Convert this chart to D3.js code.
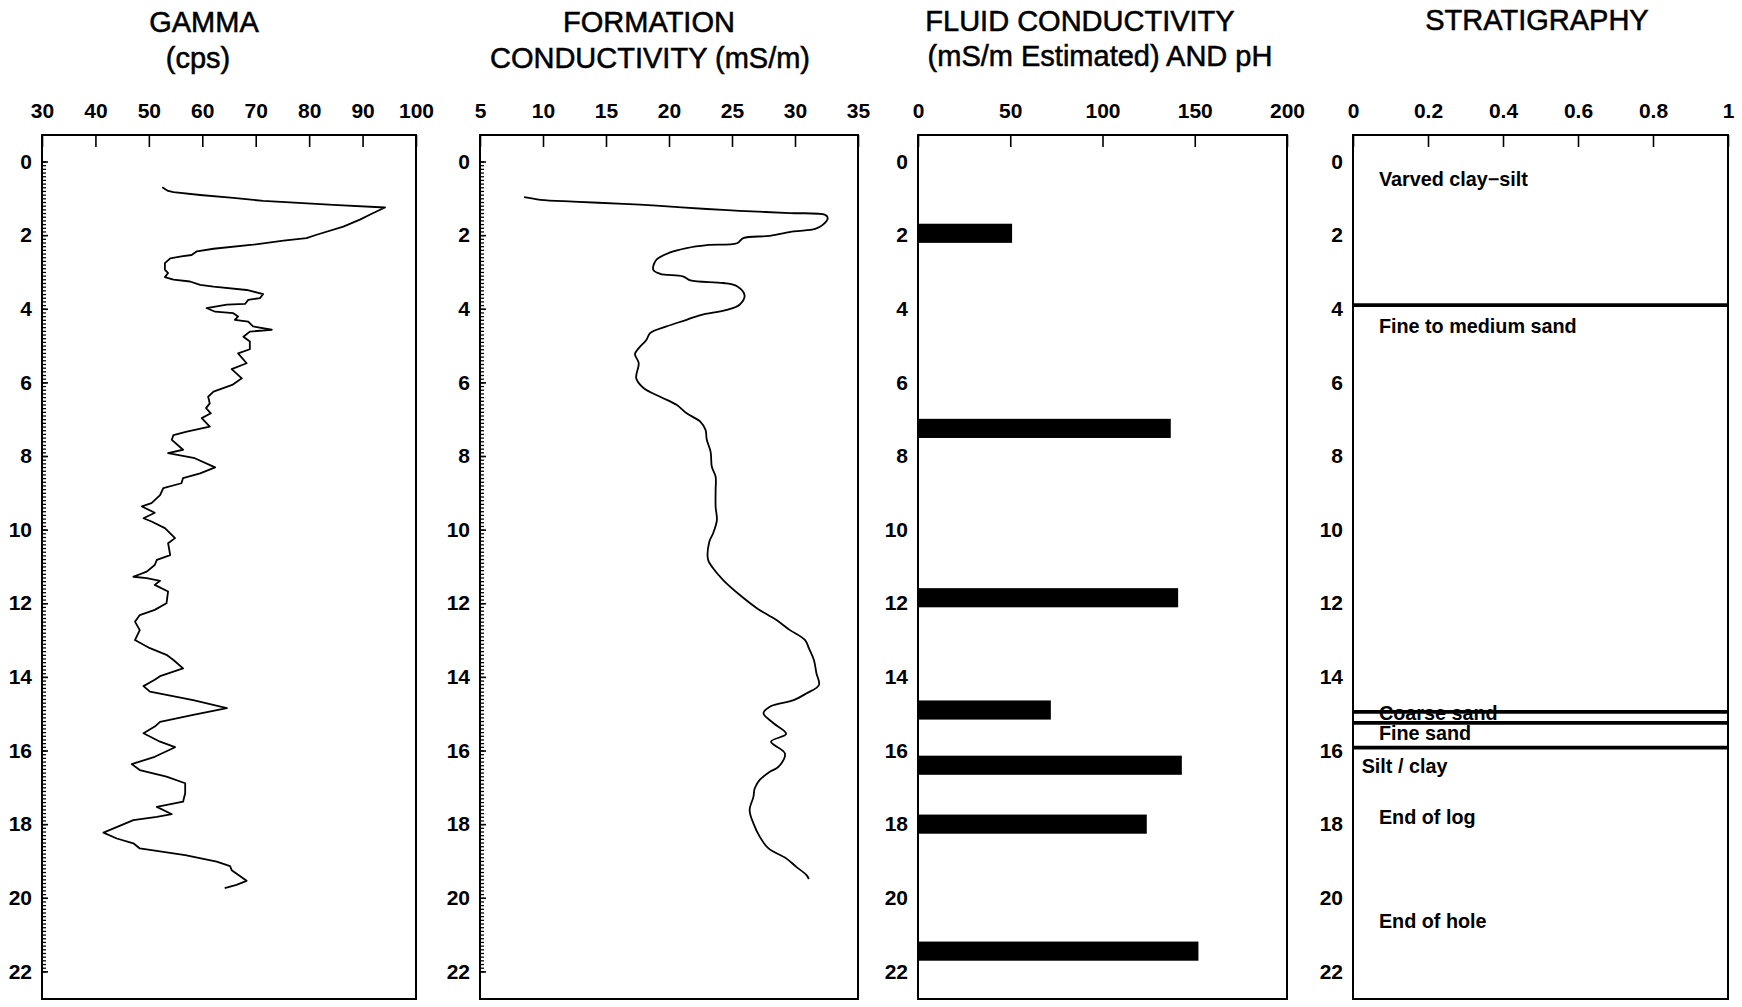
<!DOCTYPE html>
<html>
<head>
<meta charset="utf-8">
<script src="https://cdn.jsdelivr.net/npm/d3@7"></script>
<style>
  html, body { margin: 0; padding: 0; background: #fff; }
  svg { display: block; }
</style>
</head>
<body>
<svg id="chart" width="1742" height="1007"></svg>
<script>
// ---- Borehole log data (depth in metres) ----

// Natural gamma log
const gammaDepth = [0.70,0.80,0.83,0.91,0.99,1.07,1.11,1.18,1.25,1.40,1.58,1.77,1.99,2.08,2.15,2.26,2.37,2.44,2.54,2.58,2.63,2.76,2.94,3.03,3.14,3.21,3.26,3.35,3.40,3.49,3.60,3.71,3.76,3.87,3.89,3.98,4.08,4.12,4.21,4.30,4.35,4.48,4.57,4.62,4.76,4.89,5.10,5.21,5.48,5.64,5.89,6.07,6.25,6.39,6.57,6.70,6.84,6.97,7.20,7.34,7.43,7.56,7.83,7.92,8.06,8.31,8.47,8.60,8.74,8.87,9.06,9.28,9.37,9.54,9.69,9.78,9.96,10.23,10.37,10.69,10.82,10.96,11.14,11.28,11.32,11.39,11.50,11.68,12.00,12.18,12.32,12.50,12.73,13.00,13.22,13.40,13.54,13.77,13.98,14.08,14.25,14.40,14.63,14.85,15.03,15.22,15.35,15.53,15.76,15.91,16.17,16.37,16.53,16.71,16.89,17.16,17.39,17.53,17.73,17.80,17.89,18.23,18.39,18.52,18.66,18.84,19.02,19.14,19.25,19.54,19.65,19.74];
const gammaCps = [52.5,53.6,54.6,59.6,65.8,71.4,76.4,84.5,94.2,92.0,89.5,86.4,81.4,79.5,75.2,69.5,62.1,59.0,58.0,56.1,54.0,53.0,53.0,53.6,53.0,54.6,57.7,59.6,62.1,68.3,71.4,70.8,68.6,68.0,64.6,60.8,62.4,65.8,66.7,66.1,68.6,69.5,73.0,68.9,67.7,68.9,68.9,66.7,68.3,65.5,67.4,65.6,62.1,61.1,61.4,60.7,61.6,59.9,61.4,57.1,54.6,54.3,56.4,53.6,58.6,62.4,59.6,56.4,56.1,52.7,52.1,50.5,48.7,51.1,49.0,50.5,53.0,54.9,53.6,54.0,51.5,51.1,49.6,47.1,49.6,52.1,51.1,53.6,53.3,51.1,48.3,47.4,48.3,47.4,50.2,53.3,54.6,56.4,52.1,51.1,49.0,50.2,58.3,64.6,58.3,52.1,51.1,49.0,52.1,54.9,51.1,46.8,48.3,53.3,56.8,56.8,56.4,51.5,54.3,51.5,47.1,41.5,44.0,47.1,48.3,56.8,62.7,65.2,65.5,68.3,66.4,64.2];

// Formation (EM) conductivity log
const condDepth = [0.97,1.04,1.09,1.15,1.20,1.29,1.34,1.40,1.45,1.54,1.72,1.83,1.90,2.02,2.08,2.22,2.27,2.35,2.47,2.67,2.94,3.05,3.12,3.23,3.30,3.39,3.64,3.89,4.03,4.17,4.30,4.48,4.66,4.85,5.07,5.23,5.48,5.89,6.16,6.39,6.61,6.84,7.07,7.29,7.56,7.88,8.29,8.56,8.92,9.38,9.74,10.10,10.33,10.82,11.05,11.37,11.77,12.14,12.45,12.73,13.00,13.22,13.54,13.90,14.22,14.45,14.63,14.81,14.99,15.26,15.55,15.76,16.08,16.44,16.58,16.80,17.03,17.26,17.62,17.98,18.34,18.66,18.93,19.16,19.38,19.49];
const condMsm = [8.5,9.8,12.4,16.4,19.0,23.0,25.6,29.6,32.4,32.6,32.2,31.6,29.9,28.0,25.9,25.4,23.0,21.4,20.1,19.0,18.75,19.3,21.1,21.7,24.3,25.4,26.0,25.6,24.6,22.5,21.4,19.8,18.5,18.2,17.6,17.3,17.6,17.4,18.0,19.3,20.6,21.4,22.5,22.9,23.0,23.3,23.4,23.7,23.7,23.7,23.8,23.5,23.2,23.1,23.5,24.3,25.6,27.0,28.5,29.6,30.8,31.1,31.5,31.7,31.9,30.9,29.9,28.0,27.5,28.3,29.3,28.1,29.2,28.7,28.0,27.2,26.8,26.7,26.4,26.7,27.2,27.9,29.3,30.1,30.9,31.1];

// Fluid conductivity samples (mS/m, estimated)
const fluidDepth = [1.95, 7.25, 11.85, 14.9, 16.4, 18.0, 21.45];
const fluidMsm   = [51, 137, 141, 72, 143, 124, 152];

// Stratigraphy
const stratBoundary = [3.9, 14.95, 15.25, 15.92];
const stratUnit  = ["Varved clay\u2212silt", "Fine to medium sand", "Coarse sand", "Fine sand", "Silt / clay", "End of log", "End of hole"];
const stratDepth = [0.49, 4.47, 14.97, 15.53, 16.41, 17.82, 20.62];

// Axis tick values
const depthTicks = [0, 2, 4, 6, 8, 10, 12, 14, 16, 18, 20, 22];
const gammaTicks = [30, 40, 50, 60, 70, 80, 90, 100];
const condTicks  = [5, 10, 15, 20, 25, 30, 35];
const fluidTicks = [0, 50, 100, 150, 200];
const stratTicks = [0, 0.2, 0.4, 0.6, 0.8, 1];

// ---- Layout ----
const FONT = "'Liberation Sans', Arial, Helvetica, sans-serif";
const TOP = 135, BOTTOM = 999;
const SAMPLE_SPAN = 0.52;           // vertical extent of each fluid sample bar (m)

const svg = d3.select("#chart");
const y = d3.scaleLinear().domain([-0.72, 22.75]).range([TOP, BOTTOM]);

const panels = [
  { id: "gamma", x0: 42,   x1: 416,  domain: [30, 100], ticks: gammaTicks, ruler: true,  depthTicks: true },
  { id: "cond",  x0: 480,  x1: 858,  domain: [5, 35],   ticks: condTicks,  ruler: true,  depthTicks: true },
  { id: "fluid", x0: 918,  x1: 1287, domain: [0, 200],  ticks: fluidTicks, ruler: false, depthTicks: false },
  { id: "strat", x0: 1353, x1: 1728, domain: [0, 1],    ticks: stratTicks, ruler: false, depthTicks: false }
];
panels.forEach(p => { p.x = d3.scaleLinear().domain(p.domain).range([p.x0, p.x1]); });
const P = Object.fromEntries(panels.map(p => [p.id, p]));

// ---- Titles ----
const titles = [
  { lines: ["GAMMA", "(cps)"],                                  xs: [204, 198],   ys: [32, 68] },
  { lines: ["FORMATION", "CONDUCTIVITY (mS/m)"],                xs: [649, 650],   ys: [32, 68] },
  { lines: ["FLUID CONDUCTIVITY", "(mS/m Estimated) AND pH"],   xs: [1080, 1100], ys: [31, 66] },
  { lines: ["STRATIGRAPHY"],                                    xs: [1537],       ys: [30] }
];
titles.forEach(t => {
  t.lines.forEach((s, i) => {
    svg.append("text")
      .attr("x", t.xs[i]).attr("y", t.ys[i])
      .attr("text-anchor", "middle")
      .attr("font-family", FONT).attr("font-size", 29)
      .attr("fill", "#000").attr("stroke", "#000").attr("stroke-width", 0.55)
      .text(s);
  });
});

// ---- Axes and frames ----
function styleAxis(g) {
  g.select(".domain").remove();
  g.selectAll(".tick line").attr("stroke", "#000").attr("stroke-width", 1.6);
  g.selectAll(".tick text")
    .attr("font-family", FONT).attr("font-size", 21).attr("font-weight", "bold").attr("fill", "#000");
}

panels.forEach(p => {
  const g = svg.append("g").attr("class", "panel-" + p.id);

  // top value axis, ticks pointing into the track
  g.append("g")
    .attr("transform", `translate(0,${TOP})`)
    .call(d3.axisTop(p.x).tickValues(p.ticks).tickSizeInner(-12).tickSizeOuter(0)
      .tickPadding(17).tickFormat(d => String(d)))
    .call(styleAxis);

  // depth axis
  g.append("g")
    .attr("transform", `translate(${p.x0},0)`)
    .call(d3.axisLeft(y).tickValues(depthTicks).tickSizeInner(p.depthTicks ? -6 : 0).tickSizeOuter(0)
      .tickPadding(10).tickFormat(d => String(d)))
    .call(styleAxis);

  // fine depth ruler (0.1 m)
  if (p.ruler) {
    g.append("g")
      .attr("transform", `translate(${p.x0},0)`)
      .call(d3.axisLeft(y).tickValues(d3.range(0, 220.5).map(i => i / 10))
        .tickSizeInner(-4).tickSizeOuter(0).tickFormat(""))
      .call(a => {
        a.select(".domain").remove();
        a.selectAll(".tick line").attr("stroke", "#000").attr("stroke-width", 1.3);
      });
  }
});

// ---- Gamma curve ----
const gammaPts = gammaDepth.map((d, i) => [gammaCps[i], d]);
svg.append("path")
  .datum(gammaPts)
  .attr("fill", "none").attr("stroke", "#000").attr("stroke-width", 1.8)
  .attr("stroke-linejoin", "round")
  .attr("d", d3.line().x(d => P.gamma.x(d[0])).y(d => y(d[1])));

// ---- Formation conductivity curve ----
const condPts = condDepth.map((d, i) => [condMsm[i], d]);
svg.append("path")
  .datum(condPts)
  .attr("fill", "none").attr("stroke", "#000").attr("stroke-width", 1.8)
  .attr("stroke-linejoin", "round")
  .attr("d", d3.line().curve(d3.curveCatmullRom.alpha(0.5))
    .x(d => P.cond.x(d[0])).y(d => y(d[1])));

// ---- Fluid conductivity bars ----
svg.append("g").selectAll("rect")
  .data(fluidDepth.map((d, i) => ({ depth: d, value: fluidMsm[i] })))
  .join("rect")
  .attr("x", P.fluid.x(0))
  .attr("y", d => y(d.depth - SAMPLE_SPAN / 2))
  .attr("width", d => P.fluid.x(d.value) - P.fluid.x(0))
  .attr("height", d => y(d.depth + SAMPLE_SPAN / 2) - y(d.depth - SAMPLE_SPAN / 2))
  .attr("fill", "#000");

// ---- Stratigraphy ----
const labelInset = { "Silt / clay": 0.023 };
svg.append("g").selectAll("text")
  .data(stratUnit.map((u, i) => ({ unit: u, depth: stratDepth[i] })))
  .join("text")
  .attr("x", d => P.strat.x(labelInset[d.unit] ?? 0.069))
  .attr("y", d => y(d.depth))
  .attr("dy", "0.35em")
  .attr("font-family", FONT).attr("font-size", 19.8).attr("font-weight", "bold")
  .attr("fill", "#000")
  .text(d => d.unit);

svg.append("g").selectAll("line")
  .data(stratBoundary)
  .join("line")
  .attr("x1", P.strat.x(0)).attr("x2", P.strat.x(1))
  .attr("y1", d => y(d)).attr("y2", d => y(d))
  .attr("stroke", "#000").attr("stroke-width", 3.8);

// ---- Track frames ----
panels.forEach(p => {
  svg.append("rect")
    .attr("x", p.x0).attr("y", TOP)
    .attr("width", p.x1 - p.x0).attr("height", BOTTOM - TOP)
    .attr("fill", "none").attr("stroke", "#000").attr("stroke-width", 2);
});
</script>
</body>
</html>
